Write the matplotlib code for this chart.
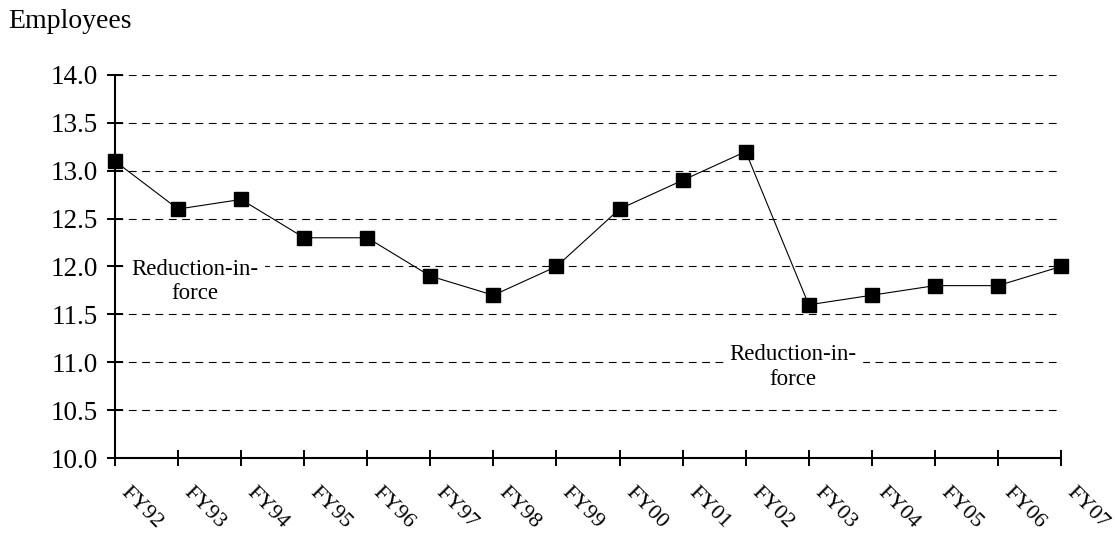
import matplotlib.pyplot as plt

years = ['FY92', 'FY93', 'FY94', 'FY95', 'FY96', 'FY97', 'FY98', 'FY99',
         'FY00', 'FY01', 'FY02', 'FY03', 'FY04', 'FY05', 'FY06', 'FY07']
employees = [13.1, 12.6, 12.7, 12.3, 12.3, 11.9, 11.7, 12.0,
             12.6, 12.9, 13.2, 11.6, 11.7, 11.8, 11.8, 12.0]
yticks = [10.0, 10.5, 11.0, 11.5, 12.0, 12.5, 13.0, 13.5, 14.0]

plt.rcParams['font.family'] = ['Liberation Serif', 'DejaVu Serif']

fig = plt.figure(figsize=(11.15, 5.34), dpi=100)
ax = fig.add_axes([0.1031, 0.1423, 0.8485, 0.7173])

x = list(range(len(years)))
ax.plot(x, employees, color='black', lw=0.8, marker='s', markersize=10.5,
        markerfacecolor='black', markeredgecolor='black', zorder=3, clip_on=False)

ax.set_xlim(0, len(years) - 1)
ax.set_ylim(10.0, 14.0)
ax.set_yticks(yticks)
ax.set_yticklabels([f'{v:.1f}' for v in yticks], fontsize=19.5)
ax.set_xticks(x)
ax.set_xticklabels([])

# rotated year labels, set a bit right of each tick
for i, yr in enumerate(years):
    ax.annotate(yr, xy=(i, 0), xycoords=('data', 'axes fraction'),
                xytext=(11, -18), textcoords='offset points',
                fontsize=16, rotation=-45, ha='left', va='top',
                rotation_mode='anchor', annotation_clip=False)

# dashed gridlines
for v in yticks[1:]:
    ax.axhline(v, color='black', lw=0.8, ls=(0, (7, 5)), zorder=1)

for s in ['top', 'right']:
    ax.spines[s].set_visible(False)
ax.spines['left'].set_linewidth(1.5)
ax.spines['bottom'].set_linewidth(1.5)
ax.tick_params(axis='both', direction='inout', length=12, width=1.4)
ax.tick_params(axis='y', pad=6)

ax.text(1.27, 11.84, 'Reduction-in-\nforce', fontsize=16.5, ha='center', va='center',
        linespacing=1.2, backgroundcolor='white', zorder=2)
ax.text(10.75, 10.95, 'Reduction-in-\nforce', fontsize=16.5, ha='center', va='center',
        linespacing=1.2, backgroundcolor='white', zorder=2)

fig.text(0.0072, 0.9476, 'Employees', fontsize=20, ha='left', va='baseline')

fig.savefig('out.png', dpi=100)
